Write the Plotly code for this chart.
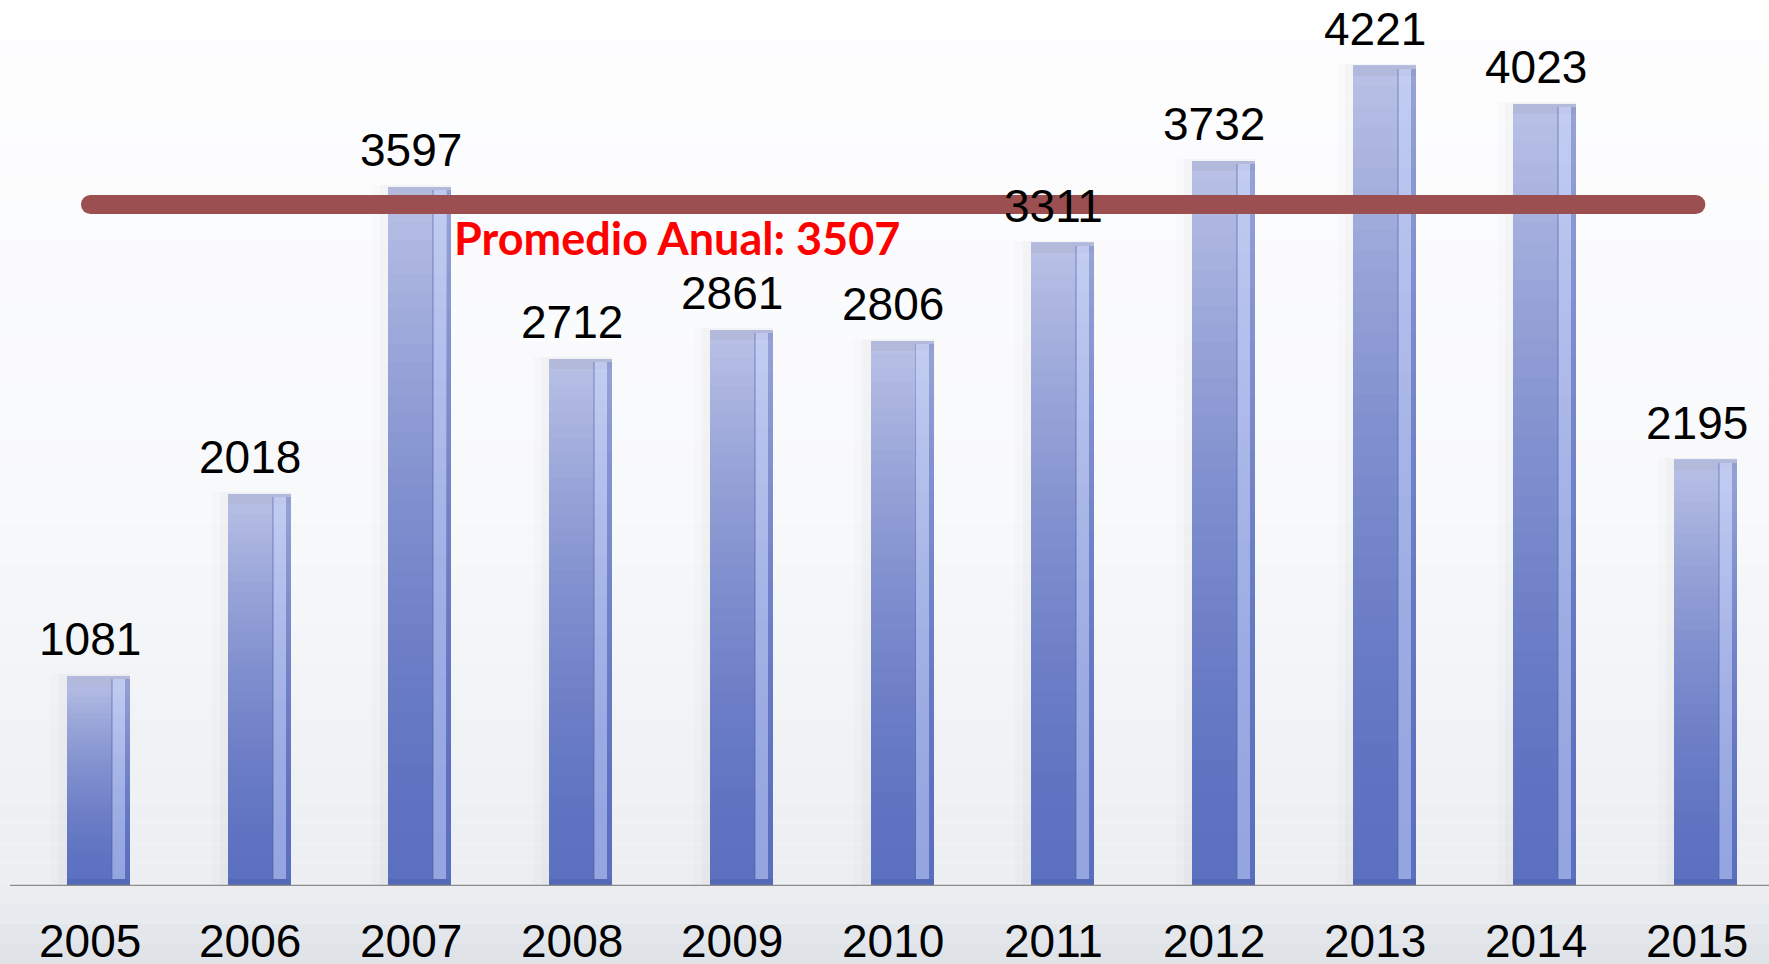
import plotly.graph_objects as go

# ---- data ----
years = [2005, 2006, 2007, 2008, 2009, 2010, 2011, 2012, 2013, 2014, 2015]
values = [1081, 2018, 3597, 2712, 2861, 2806, 3311, 3732, 4221, 4023, 2195]
average = 3507
average_label = "Promedio Anual: 3507"
year_labels = [str(y) for y in years]

# ---- styling ----
W, H = 1769, 964
BASE_PX = 886          # pixel row of the zero line
PX_PER_UNIT = 0.1943   # pixels per data unit
BAR_W = 0.392
DARK = (92, 112, 192)
LIGHT = (186, 194, 230)
N_SEG = 40
LABEL_XSHIFT = -9

def mix(a, b, t):
    return tuple(round(a[k] + (b[k] - a[k]) * t) for k in range(3))

def rgb(c, a=None):
    if a is None:
        return "rgb(%d,%d,%d)" % c
    return "rgba(%d,%d,%d,%.3f)" % (c + (a,))

fig = go.Figure()

# soft shadow behind bars (mostly to the left)
for extra, alpha in [(0.10, 0.012), (0.05, 0.018)]:
    fig.add_trace(go.Bar(
        x=years, y=[v + 10 for v in values], width=BAR_W + extra,
        offset=-(BAR_W / 2) - extra,
        marker=dict(color="rgba(0,0,0,%.3f)" % alpha, line=dict(width=0)),
        hoverinfo="skip", showlegend=False))

# gradient bar body built from stacked segments
for i in range(N_SEG):
    t = (i + 0.5) / N_SEG
    col = mix(DARK, LIGHT, t ** 1.6)
    fig.add_trace(go.Bar(
        x=years, y=[v / N_SEG * 1.02 for v in values],
        base=[v * i / N_SEG for v in values],
        width=BAR_W, offset=-BAR_W / 2,
        marker=dict(color=rgb(col), line=dict(width=0)),
        hoverinfo="skip", showlegend=False))

# top bevel
bevel = 10 / PX_PER_UNIT
fig.add_trace(go.Bar(
    x=years, y=[bevel] * len(values), base=[v - bevel for v in values],
    width=BAR_W, offset=-BAR_W / 2,
    marker=dict(color="rgba(178,184,216,0.9)", line=dict(width=0)),
    hoverinfo="skip", showlegend=False))
# bottom bevel
bb = 7 / PX_PER_UNIT
fig.add_trace(go.Bar(
    x=years, y=[bb] * len(values), base=[0] * len(values),
    width=BAR_W, offset=-BAR_W / 2,
    marker=dict(color="rgba(70,90,170,0.35)", line=dict(width=0)),
    hoverinfo="skip", showlegend=False))

# right-hand highlight stripe
fig.add_trace(go.Bar(
    x=years, y=[v - bevel for v in values], base=[bb] * len(values),
    width=0.081, offset=0.084,
    marker=dict(color="rgba(205,218,255,0.5)", line=dict(width=0)),
    hoverinfo="skip", showlegend=False))
fig.add_trace(go.Bar(
    x=years, y=[v - bevel for v in values], base=[bb] * len(values),
    width=0.012, offset=0.078,
    marker=dict(color="rgba(70,90,160,0.30)", line=dict(width=0)),
    hoverinfo="skip", showlegend=False))
fig.add_trace(go.Bar(
    x=years, y=[v - bevel for v in values], base=[bb] * len(values),
    width=0.03, offset=0.166,
    marker=dict(color="rgba(90,110,190,0.35)", line=dict(width=0)),
    hoverinfo="skip", showlegend=False))

# average line with rounded ends
LINE_COL = "#9B4F50"
fig.add_trace(go.Scatter(
    x=[years[0] - 0.05, years[-1] - 0.06], y=[average, average],
    mode="lines+markers",
    line=dict(color=LINE_COL, width=19),
    marker=dict(color=LINE_COL, size=19, line=dict(width=0)),
    hoverinfo="skip", showlegend=False))

NUM_FONT = dict(family="Liberation Sans, Arial", size=46, color="black")

# value labels
for yr, v in zip(years, values):
    fig.add_annotation(x=yr, y=v, text=str(v), showarrow=False,
                       xanchor="center", yanchor="bottom", yshift=9,
                       xshift=LABEL_XSHIFT, font=NUM_FONT)

# category labels
for yr, lab in zip(years, year_labels):
    fig.add_annotation(x=yr, y=0, text=lab, showarrow=False,
                       xanchor="center", yanchor="middle", yshift=-55,
                       xshift=LABEL_XSHIFT, font=NUM_FONT)

# average label
fig.add_annotation(x=677 / W, xref="paper", y=average, yref="y",
                   text="<b>%s</b>" % average_label, showarrow=False,
                   xanchor="center", yanchor="middle", yshift=-33,
                   font=dict(family="Lato", size=45, color="#FF0000"))

# background gradient bands
stops = [(0, (254, 254, 255)), (500, (248, 249, 251)), (886, (236, 238, 242)), (964, (222, 226, 232))]
def bg(py):
    for (y0, c0), (y1, c1) in zip(stops[:-1], stops[1:]):
        if py <= y1:
            return mix(c0, c1, (py - y0) / (y1 - y0))
    return stops[-1][1]

shapes = []
n_bands = 48
for k in range(n_bands):
    p0 = H * k / n_bands
    p1 = H * (k + 1) / n_bands
    c = bg((p0 + p1) / 2)
    shapes.append(dict(type="rect", xref="paper", yref="paper",
                       x0=0, x1=1,
                       y0=(BASE_PX - p1) / BASE_PX, y1=(BASE_PX - p0) / BASE_PX,
                       fillcolor=rgb(c), line=dict(width=0), layer="below"))
# zero line
shapes.append(dict(type="line", xref="paper", yref="y", x0=10 / W, x1=1, y0=0, y1=0,
                   line=dict(color="#8C8C8C", width=2.5), layer="above"))

fig.update_layout(
    width=W, height=H,
    margin=dict(l=0, r=0, t=0, b=H - BASE_PX, pad=0),
    paper_bgcolor="white", plot_bgcolor="rgba(0,0,0,0)",
    barmode="overlay", bargap=0,
    shapes=shapes,
    xaxis=dict(range=[years[0] - 98.5 / 160.7, years[0] + (W - 98.5) / 160.7],
               showticklabels=False, showgrid=False, zeroline=False,
               showline=False, ticks=""),
    yaxis=dict(range=[0, BASE_PX / PX_PER_UNIT], visible=False, showgrid=False),
    showlegend=False,
)

fig.write_html("out.html", config={"displayModeBar": False},
               post_script="document.body.style.margin='0';document.body.style.overflow='hidden';")
